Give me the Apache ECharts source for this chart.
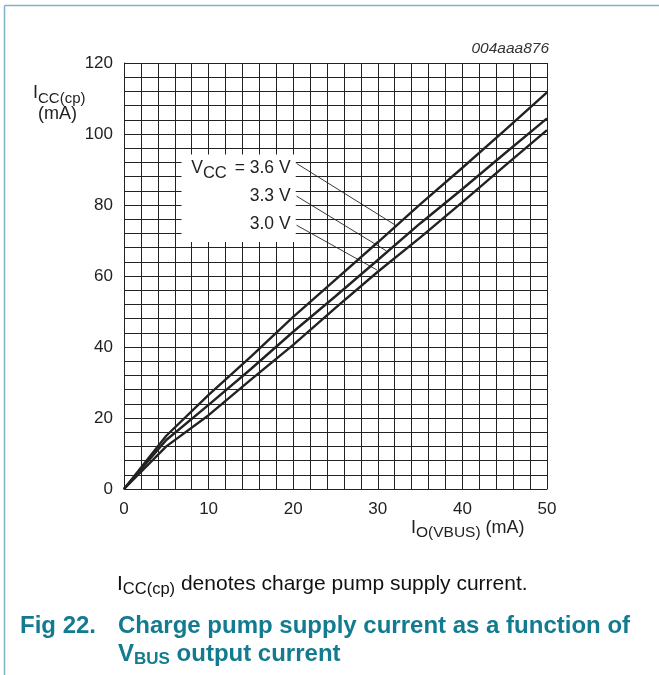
<!DOCTYPE html>
<html>
<head>
<meta charset="utf-8">
<script src="https://cdn.jsdelivr.net/npm/echarts@6/dist/echarts.min.js"></script>
<style>
html,body{margin:0;padding:0;background:#fff;}
#chart{width:659px;height:675px;}
</style>
</head>
<body>
<div id="chart"></div>
<script>
// ---- data ----
const outputCurrent = [0, 5, 10, 15, 20, 25, 30, 35, 40, 45, 50];          // I_O(VBUS) mA
const icc36 = [0, 15, 26.5, 37.3, 48.5, 59, 69.5, 80.2, 90.5, 101, 111.7]; // VCC = 3.6 V
const icc33 = [0, 13.8, 23.7, 33.8, 44.3, 54.3, 64.5, 74.8, 84.5, 94.5, 104.4]; // 3.3 V
const icc30 = [0, 12, 20.8, 30.8, 40.6, 51, 61.2, 70.8, 80.8, 91, 101.1];  // 3.0 V
const xTicks = [0, 10, 20, 30, 40, 50];
const yTicks = [0, 20, 40, 60, 80, 100, 120];
const leader36 = [[20.4, 91.7], [32.1, 74.3]];
const leader33 = [[20.4, 82.5], [31.0, 67.1]];
const leader30 = [[20.4, 74.3], [29.9, 61.7]];
const curveLabels = ['{v|V}{s|CC}{v| = 3.6 V}', '{v|3.3 V}', '{v|3.0 V}'];

const pair = (xs, ys) => xs.map((x, i) => [x, ys[i]]);
const ink = '#222';
const teal = '#127b8f';
const FF = 'Liberation Sans, Arial';

const chart = echarts.init(document.getElementById('chart'));
const curve = (name, ys) => ({
  type: 'line', name, data: pair(outputCurrent, ys), symbol: 'none', smooth: false,
  lineStyle: { color: ink, width: 2.4 }, z: 5, silent: true
});
const leader = (pts, label, dy) => ({
  type: 'line', data: pts, symbol: 'none',
  lineStyle: { color: ink, width: 0.9 }, z: 4, silent: true,
  markPoint: {
    symbol: 'circle', symbolSize: 0,
    data: [{ coord: pts[0], value: '' }],
    label: {
      show: true, position: 'left', distance: 6, offset: [0, dy], formatter: label,
      color: ink, fontFamily: FF, fontSize: 17.5,
      rich: {
        v: { fontSize: 17.5, color: ink, fontFamily: FF },
        s: { fontSize: 16.5, color: ink, fontFamily: FF, padding: [10, 3, 0, 0] }
      }
    }
  }
});

chart.setOption({
  animation: false,
  backgroundColor: '#fff',
  grid: { left: 124, right: 112, top: 63, bottom: 186, containLabel: false },
  xAxis: {
    type: 'value', min: 0, max: 50, interval: 10,
    axisLine: { show: true, lineStyle: { color: ink, width: 1 } },
    axisTick: { show: false },
    splitLine: { show: true, lineStyle: { color: ink, width: 1 } },
    minorTick: { show: false, splitNumber: 5 },
    minorSplitLine: { show: true, lineStyle: { color: ink, width: 1 } },
    axisLabel: {
      color: ink, fontSize: 17, fontFamily: FF, margin: 12,
      formatter: v => xTicks.includes(v) ? String(v) : ''
    }
  },
  yAxis: {
    type: 'value', min: 0, max: 120, interval: 20,
    axisLine: { show: true, lineStyle: { color: ink, width: 1 } },
    axisTick: { show: false },
    splitLine: { show: true, lineStyle: { color: ink, width: 1 } },
    minorTick: { show: false, splitNumber: 5 },
    minorSplitLine: { show: true, lineStyle: { color: ink, width: 1 } },
    axisLabel: {
      color: ink, fontSize: 17, fontFamily: FF, margin: 11,
      formatter: v => yTicks.includes(v) ? String(v) : ''
    }
  },
  series: [
    {
      type: 'line', data: [], silent: true,
      markArea: {
        silent: true,
        itemStyle: { color: '#fff', opacity: 1 },
        data: [[{ coord: [6.8, 69.6] }, { coord: [20.3, 94.2] }]]
      },
      z: 3
    },
    curve('3.6 V', icc36),
    curve('3.3 V', icc33),
    curve('3.0 V', icc30),
    leader(leader36, curveLabels[0], 5),
    leader(leader33, curveLabels[1], 0),
    leader(leader30, curveLabels[2], -1)
  ],
  graphic: [
    { type: 'line', shape: { x1: 4.5, y1: 5.5, x2: 659, y2: 5.5 }, style: { stroke: '#7fb2c2', lineWidth: 1.5 }, silent: true },
    { type: 'line', shape: { x1: 4.5, y1: 5.5, x2: 4.5, y2: 675 }, style: { stroke: '#7fb2c2', lineWidth: 1.5 }, silent: true },
    { type: 'text', x: 549, y: 49, style: { text: '004aaa876', align: 'right', verticalAlign: 'middle', fill: '#333', font: 'italic 15.5px "Liberation Sans", Arial' } },
    { type: 'text', x: 33, y: 81, style: {
      text: '{b|I}{s|CC(cp)}\n{m|(mA)}', fill: ink, align: 'left', verticalAlign: 'top',
      rich: {
        b: { fontSize: 18, fontFamily: FF, fill: ink },
        s: { fontSize: 15, fontFamily: FF, fill: ink, padding: [10, 0, 0, 0] },
        m: { fontSize: 18, fontFamily: FF, fill: ink, padding: [0, 0, 0, 5], lineHeight: 16 }
      } } },
    { type: 'text', x: 411, y: 515, style: {
      text: '{b|I}{s|O(VBUS)}{b| (mA)}', fill: ink, align: 'left', verticalAlign: 'top',
      rich: {
        b: { fontSize: 18, fontFamily: FF, fill: ink },
        s: { fontSize: 15.5, fontFamily: FF, fill: ink, padding: [10, 0, 0, 0] }
      } } },
    { type: 'text', x: 117, y: 570, style: {
      text: '{b|I}{s|CC(cp)}{b| denotes charge pump supply current.}', fill: ink, align: 'left', verticalAlign: 'top',
      rich: {
        b: { fontSize: 21, fontFamily: FF, fill: '#111' },
        s: { fontSize: 16.5, fontFamily: FF, fill: '#111', padding: [11, 0, 0, 0] }
      } } },
    { type: 'text', x: 20, y: 614, style: { text: 'Fig 22.', fill: teal, font: 'bold 24px "Liberation Sans", Arial', verticalAlign: 'top' } },
    { type: 'text', x: 118, y: 614, style: { text: 'Charge pump supply current as a function of', fill: teal, font: 'bold 24px "Liberation Sans", Arial', verticalAlign: 'top' } },
    { type: 'text', x: 118, y: 640, style: {
      text: '{b|V}{s|BUS}{b| output current}', fill: teal, align: 'left', verticalAlign: 'top',
      rich: {
        b: { fontSize: 24, fontWeight: 'bold', fontFamily: FF, fill: teal },
        s: { fontSize: 17, fontWeight: 'bold', fontFamily: FF, fill: teal, padding: [11, 0, 0, 0] }
      } } }
  ]
});
</script>
</body>
</html>
